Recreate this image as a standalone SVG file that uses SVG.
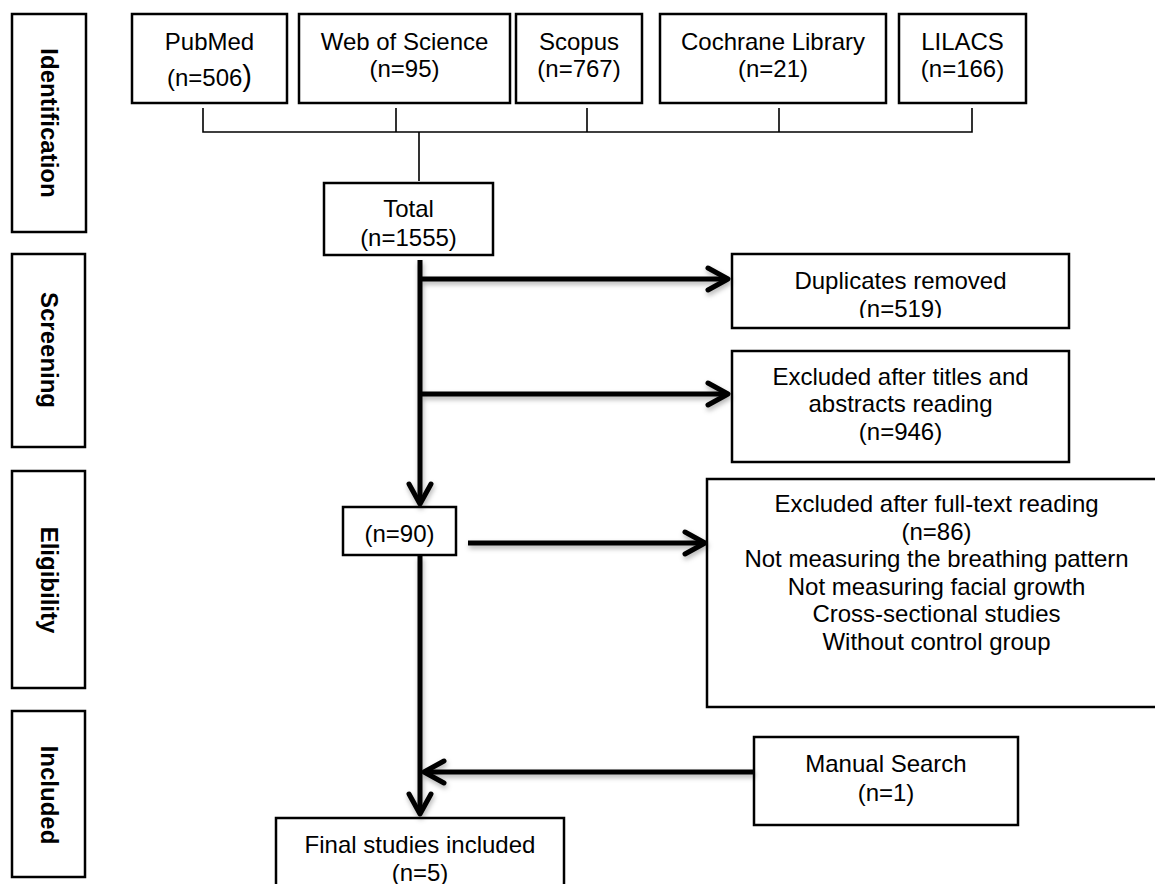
<svg xmlns="http://www.w3.org/2000/svg" width="1155" height="884" viewBox="0 0 1155 884">
<style>
  .box { fill: #fff; stroke: #000; stroke-width: 2.5; }
  .t { font-family: "Liberation Sans", Arial, sans-serif; font-size: 24px; fill: #000; text-anchor: middle; }
  .side { font-family: "Liberation Sans", Arial, sans-serif; font-size: 24px; font-weight: bold; fill: #000; text-anchor: middle; }
  .thin { fill: none; stroke: #000; stroke-width: 1.6; }
  .thick { fill: none; stroke: #000; stroke-width: 5; }
</style>
<defs>
  <marker id="chev" viewBox="-26 -16 32 32" refX="0" refY="0" markerWidth="32" markerHeight="32" markerUnits="userSpaceOnUse" orient="auto" overflow="visible">
    <path d="M -20 -11 L 0 0 L -20 11" fill="none" stroke="#000" stroke-width="5" stroke-linecap="round" stroke-linejoin="round"/>
  </marker>
  <filter id="shadow" x="-5%" y="-5%" width="110%" height="110%">
    <feDropShadow dx="1" dy="3" stdDeviation="2.5" flood-color="#000" flood-opacity="0.3"/>
  </filter>
  <clipPath id="clipDup"><rect x="732" y="254" width="337" height="64"/></clipPath>
  <clipPath id="clipTotal"><rect x="324" y="183" width="169" height="69"/></clipPath>
</defs>
<rect width="1155" height="884" fill="#fff"/>

<!-- side phase labels -->
<g id="phase-identification">
  <rect class="box" x="12" y="14" width="74" height="218"/>
  <text class="side" transform="translate(41,123) rotate(90)">Identification</text>
</g>
<g id="phase-screening">
  <rect class="box" x="12" y="254" width="73" height="193"/>
  <text class="side" transform="translate(41,350) rotate(90)">Screening</text>
</g>
<g id="phase-eligibility">
  <rect class="box" x="12" y="471" width="73" height="217"/>
  <text class="side" transform="translate(41,580) rotate(90)">Eligibility</text>
</g>
<g id="phase-included">
  <rect class="box" x="12" y="711" width="73" height="166"/>
  <text class="side" transform="translate(41,795) rotate(90)">Included</text>
</g>

<!-- databases -->
<g id="pubmed">
  <rect class="box" x="132" y="14" width="155" height="89"/>
  <text class="t" x="209.5" y="50">PubMed</text>
  <text class="t" x="209.5" y="86">(n=506<tspan font-size="29">)</tspan></text>
</g>
<g id="wos">
  <rect class="box" x="299" y="14" width="211" height="89"/>
  <text class="t" x="404.5" y="50">Web of Science</text>
  <text class="t" x="404.5" y="77">(n=95)</text>
</g>
<g id="scopus">
  <rect class="box" x="516" y="14" width="126" height="89"/>
  <text class="t" x="579" y="50">Scopus</text>
  <text class="t" x="579" y="77">(n=767)</text>
</g>
<g id="cochrane">
  <rect class="box" x="660" y="14" width="226" height="89"/>
  <text class="t" x="773" y="50">Cochrane Library</text>
  <text class="t" x="773" y="77">(n=21)</text>
</g>
<g id="lilacs">
  <rect class="box" x="899" y="14" width="127" height="89"/>
  <text class="t" x="962.5" y="50">LILACS</text>
  <text class="t" x="962.5" y="77">(n=166)</text>
</g>

<g id="total">
  <rect class="box" x="324" y="183" width="169" height="72"/>
  <g clip-path="url(#clipTotal)">
    <text class="t" x="408.5" y="217">Total</text>
    <text class="t" x="408.5" y="246">(n=1555)</text>
  </g>
</g>

<g id="duplicates">
  <rect class="box" x="732" y="254" width="337" height="74"/>
  <g clip-path="url(#clipDup)">
    <text class="t" x="900.5" y="289">Duplicates removed</text>
    <text class="t" x="900.5" y="317">(n=519)</text>
  </g>
</g>

<g id="excluded-titles">
  <rect class="box" x="732" y="351" width="337" height="111"/>
  <text class="t" x="900.5" y="385">Excluded after titles and</text>
  <text class="t" x="900.5" y="412">abstracts reading</text>
  <text class="t" x="900.5" y="440">(n=946)</text>
</g>

<g id="n90">
  <rect class="box" x="343" y="507" width="113" height="48"/>
  <text class="t" x="399.5" y="542">(n=90)</text>
</g>

<g id="excluded-fulltext">
  <rect class="box" x="707" y="479" width="460" height="228"/>
  <text class="t" x="936.5" y="512">Excluded after full-text reading</text>
  <text class="t" x="936.5" y="540">(n=86)</text>
  <text class="t" x="936.5" y="567">Not measuring the breathing pattern</text>
  <text class="t" x="936.5" y="595">Not measuring facial growth</text>
  <text class="t" x="936.5" y="622">Cross-sectional studies</text>
  <text class="t" x="936.5" y="650">Without control group</text>
</g>

<g id="manual">
  <rect class="box" x="754" y="737" width="264" height="88"/>
  <text class="t" x="886" y="772">Manual Search</text>
  <text class="t" x="886" y="801">(n=1)</text>
</g>

<g id="final">
  <rect class="box" x="276" y="818" width="288" height="90"/>
  <text class="t" x="420" y="853">Final studies included</text>
  <text class="t" x="420" y="881">(n=5)</text>
</g>

<!-- connectors -->
<g id="connectors">
  <g id="bracket">
    <path class="thin" d="M203 108 V132 H972 V108 M396 108 V132 M587 108 V132 M779 108 V132 M419 132 V181"/>
  </g>
  <g id="flow" filter="url(#shadow)">
    <path class="thick" d="M420 260 V504" marker-end="url(#chev)"/>
    <path class="thick" d="M420 279 H728" marker-end="url(#chev)"/>
    <path class="thick" d="M420 394 H728" marker-end="url(#chev)"/>
    <path class="thick" d="M468 543 H705" marker-end="url(#chev)"/>
    <path class="thick" d="M420 556 V814" marker-end="url(#chev)"/>
    <path class="thick" d="M754 772 H424" marker-end="url(#chev)"/>
  </g>
</g>
</svg>
